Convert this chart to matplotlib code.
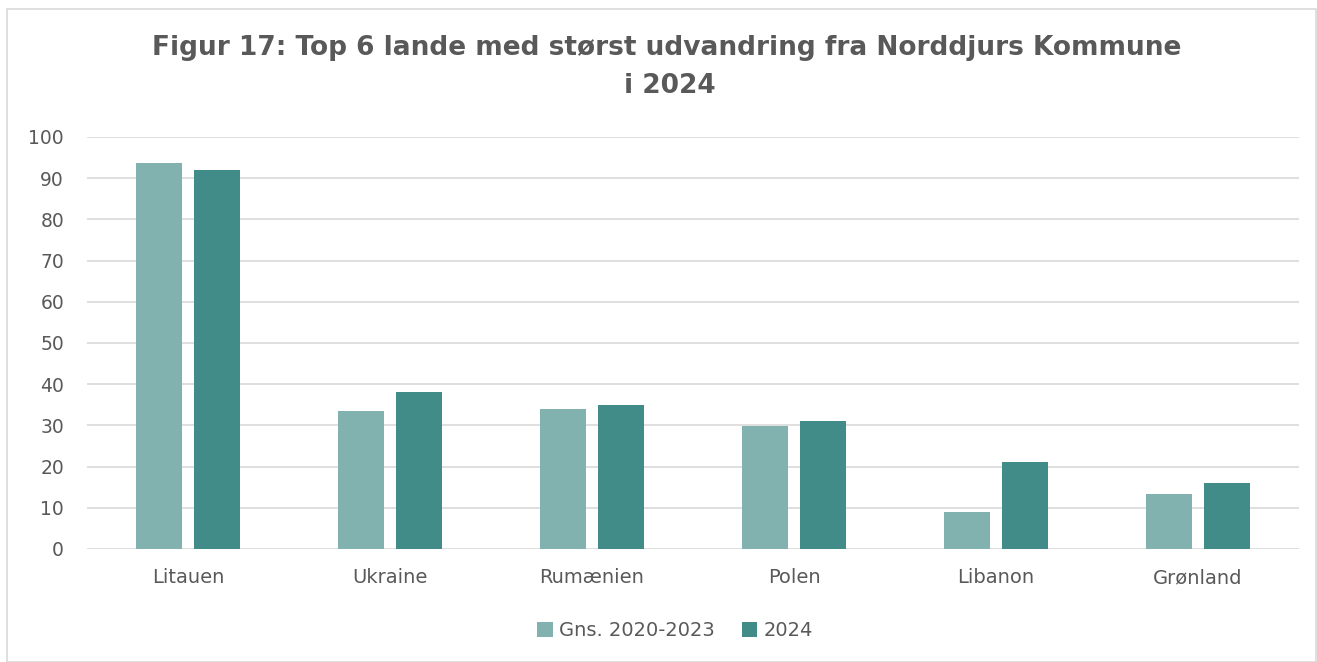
import numpy as np
import matplotlib.pyplot as plt
from matplotlib.patches import Rectangle

lande = ['Litauen', 'Ukraine', 'Rumænien', 'Polen', 'Libanon', 'Grønland']
gns_2020_2023 = [93.75, 33.5, 34.0, 29.75, 9.0, 13.25]
aar_2024 = [92, 38, 35, 31, 21, 16]
yticks = [0, 10, 20, 30, 40, 50, 60, 70, 80, 90, 100]

lys = '#82B2B0'
moerk = '#418B88'
tekst = '#595959'

plt.rcParams['font.family'] = ['DejaVu Sans']

fig = plt.figure(figsize=(13.17, 6.62), dpi=100)
fig.patches.append(Rectangle((7/1317, 0), 1 - 7/1317 - 0.001, 1 - 9/662,
                             transform=fig.transFigure, fill=False,
                             edgecolor='#D9D9D9', linewidth=1.2))

ax = fig.add_axes([87/1317, 1 - 549/662, (1299 - 87)/1317, (549 - 137)/662])
x = np.arange(len(lande))
w = 0.228
ax.bar(x - 0.144, gns_2020_2023, w, color=lys, label='Gns. 2020-2023', zorder=3)
ax.bar(x + 0.144, aar_2024, w, color=moerk, label='2024', zorder=3)

ax.set_xlim(-0.5, len(lande) - 0.5)
ax.set_ylim(0, 100)
ax.set_yticks(yticks)
ax.set_xticks(x)
ax.set_xticklabels(lande)
ax.tick_params(axis='both', length=0, colors=tekst, labelsize=13.5)
ax.tick_params(axis='x', pad=14, labelsize=14)
ax.tick_params(axis='y', pad=16.5)
ax.grid(axis='y', color='#D9D9D9', linewidth=1.2, zorder=0)
for s in ax.spines.values():
    s.set_visible(False)

fig.text(667/1317, 1 - 48/662, 'Figur 17: Top 6 lande med størst udvandring fra Norddjurs Kommune',
         ha='center', va='center', fontsize=19, fontweight='bold', color=tekst)
fig.text(670/1317, 1 - 86/662, 'i 2024', ha='center', va='center',
         fontsize=19, fontweight='bold', color=tekst)

fig.legend(loc='center', bbox_to_anchor=(675/1317, 1 - 631/662), ncol=2, frameon=False,
           fontsize=14, labelcolor=tekst, handlelength=0.8, handleheight=0.8,
           handletextpad=0.3, columnspacing=1.4)

fig.savefig('out.png', dpi=100)
